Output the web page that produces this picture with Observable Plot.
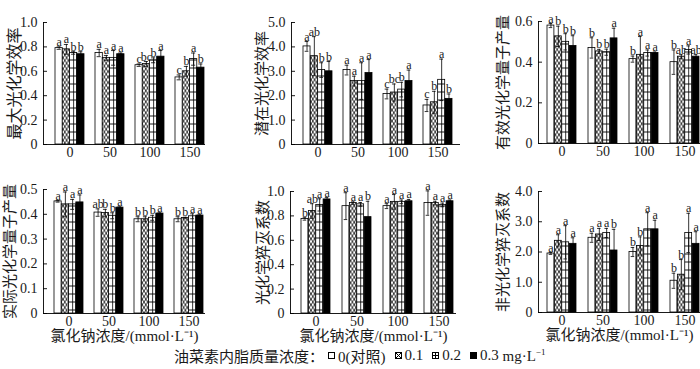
<!DOCTYPE html>
<html>
<head>
<meta charset="utf-8">
<script src="https://cdn.jsdelivr.net/npm/d3@7"></script>
<script src="https://cdn.jsdelivr.net/npm/@observablehq/plot@0.6"></script>
<style>
  html, body { margin: 0; padding: 0; background: #fff; }
  #wrap { position: relative; width: 700px; height: 369px; overflow: hidden; background: #fff; }
  .cell { position: absolute; }
  #legend { position: absolute; left: 174px; top: 345px; display: flex; align-items: center; white-space: nowrap;
            font-family: "Liberation Serif", "Noto Sans CJK SC", serif; font-size: 15px; color: #1a1a1a; }
  #legend svg { margin: 0 3px 0 4px; }
  #legend sup { font-size: 9px; }
</style>
</head>
<body>
<svg width="0" height="0" style="position:absolute">
  <defs>
    <pattern id="pat-cross" patternUnits="userSpaceOnUse" width="3.6" height="5.5">
      <rect width="3.6" height="5.5" fill="#fff"/>
      <path d="M0,0 L3.6,5.5 M3.6,0 L0,5.5" stroke="#000" stroke-width="0.8" fill="none"/>
    </pattern>
    <pattern id="pat-grid" patternUnits="userSpaceOnUse" width="10" height="8">
      <rect width="10" height="8" fill="#fff"/>
      <path d="M0,4 H10" stroke="#000" stroke-width="0.9" fill="none"/>
    </pattern>
  </defs>
</svg>
<div id="wrap"></div>
<script>
// ---------- data ----------
const groups = ["0", "50", "100", "150"];
const seriesNames = ["0(对照)", "0.1", "0.2", "0.3"];
const xLabel = "氯化钠浓度/(mmol·L⁻¹)";

// Panel 1: 最大光化学效率
const fvfmMean = [[0.79, 0.78, 0.75, 0.74], [0.75, 0.71, 0.71, 0.74], [0.65, 0.66, 0.69, 0.72], [0.55, 0.60, 0.70, 0.63]];
const fvfmErr  = [[0.01, 0.04, 0.01, 0.02], [0.03, 0.02, 0.06, 0.01], [0.01, 0.02, 0.02, 0.05], [0.02, 0.04, 0.05, 0.03]];
const fvfmSig  = [["a", "a", "b", "b"], ["a", "a", "a", "a"], ["c", "bc", "b", "a"], ["c", "b", "a", "b"]];
const fvfmTicks = [0, 0.2, 0.4, 0.6, 0.8, 1.0];

// Panel 2: 潜在光化学效率
const fvfoMean = [[4.02, 3.62, 3.05, 3.00], [3.05, 2.60, 2.60, 2.93], [2.07, 2.13, 2.25, 2.60], [1.60, 1.73, 2.65, 1.87]];
const fvfoErr  = [[0.20, 0.80, 0.30, 0.40], [0.20, 0.20, 0.75, 0.55], [0.20, 0.35, 0.30, 0.45], [0.25, 0.45, 0.85, 0.20]];
const fvfoSig  = [["a", "ab", "b", "b"], ["a", "a", "a", "a"], ["c", "bc", "b", "a"], ["c", "b", "a", "b"]];
const fvfoTicks = [0, 1, 2, 3, 4, 5];

// Panel 3: 有效光化学量子产量
const effMean = [[0.580, 0.527, 0.500, 0.480], [0.470, 0.453, 0.449, 0.517], [0.415, 0.436, 0.445, 0.445], [0.400, 0.427, 0.460, 0.427]];
const effErr  = [[0.010, 0.050, 0.040, 0.050], [0.050, 0.010, 0.015, 0.050], [0.015, 0.090, 0.015, 0.005], [0.060, 0.010, 0.020, 0.010]];
const effSig  = [["a", "b", "b", "b"], ["b", "b", "b", "a"], ["b", "a", "a", "a"], ["b", "ab", "a", "ab"]];
const effTicks = [0, 0.2, 0.4, 0.6];

// Panel 4: 实际光化学量子产量
const actMean = [[0.452, 0.440, 0.440, 0.448], [0.407, 0.405, 0.394, 0.427], [0.380, 0.380, 0.386, 0.403], [0.380, 0.385, 0.392, 0.395]];
const actErr  = [[0.003, 0.050, 0.020, 0.030], [0.015, 0.015, 0.012, 0.003], [0.010, 0.010, 0.010, 0.003], [0.010, 0.003, 0.010, 0.003]];
const actSig  = [["a", "a", "a", "a"], ["ab", "b", "b", "a"], ["b", "b", "b", "a"], ["b", "b", "a", "a"]];
const actTicks = [0, 0.1, 0.2, 0.3, 0.4, 0.5];

// Panel 5: 光化学猝灭系数
const qpMean = [[0.775, 0.840, 0.890, 0.935], [0.880, 0.905, 0.895, 0.790], [0.880, 0.915, 0.915, 0.920], [0.905, 0.905, 0.890, 0.920]];
const qpErr  = [[0.010, 0.060, 0.050, 0.015], [0.110, 0.010, 0.015, 0.130], [0.020, 0.060, 0.015, 0.015], [0.100, 0.015, 0.015, 0.010]];
const qpSig  = [["b", "ab", "a", "a"], ["a", "a", "a", "b"], ["a", "a", "a", "a"], ["a", "a", "a", "a"]];
const qpTicks = [0, 0.2, 0.4, 0.6, 0.8, 1.0];

// Panel 6: 非光化学猝灭系数
const npqMean = [[1.95, 2.37, 2.32, 2.27], [2.47, 2.58, 2.63, 2.05], [2.00, 2.20, 2.75, 2.75], [1.05, 1.25, 2.63, 2.27]];
const npqErr  = [[0.03, 0.20, 0.55, 0.20], [0.15, 0.20, 0.15, 0.70], [0.15, 0.30, 0.55, 0.30], [0.25, 0.50, 0.65, 0.40]];
const npqSig  = [["a", "a", "a", "a"], ["a", "a", "a", "b"], ["b", "b", "a", "a"], ["b", "b", "a", "a"]];
const npqTicks = [0, 1, 2, 3, 4];

// ---------- drawing ----------
const FONT = "'Liberation Serif', 'Noto Sans CJK SC', serif";
const fills = ["white", "url(#pat-cross)", "url(#pat-grid)", "black"];
const fmt = d => d === 0 ? "0" : d.toFixed(1);

function panel(cfg) {
  const {mean, err, sig, ticks, yLabel, left, top, width, height, ml, mr, mt, mb, xr, yDx, showX, yFont} = cfg;
  const rows = groups.flatMap((g, gi) => seriesNames.map((s, si) => ({g, si, v: mean[gi][si], e: err[gi][si], t: sig[gi][si]})));
  const pi = 0.284;
  const step = (xr[1] - xr[0]) / (groups.length - pi);
  const bw = step * (1 - pi);
  const w = bw / 4;
  const cap = 4;
  const frameW = width - ml - mr;
  const marks = [];
  for (let si = 0; si < 4; si++) {
    const d = rows.filter(r => r.si === si);
    const off = (si - 1.5) * w;
    marks.push(Plot.barY(d, {x: "g", y: "v", fill: fills[si], stroke: "black", strokeWidth: 0.8,
      insetLeft: si * w, insetRight: (3 - si) * w}));
    if (si === 2) marks.push(Plot.ruleX(d, {x: "g", y1: 0, y2: "v", dx: off, stroke: "black", strokeWidth: 0.8}));
    marks.push(Plot.ruleX(d, {x: "g", y1: r => r.v - r.e, y2: r => r.v + r.e, dx: off, stroke: "black", strokeWidth: 0.8}));
    for (const sign of [1, -1]) {
      marks.push(Plot.tickY(d, {x: "g", y: r => r.v + sign * r.e, stroke: "black", strokeWidth: 0.8,
        insetLeft: si * w + (w - cap) / 2, insetRight: (3 - si) * w + (w - cap) / 2}));
    }
    marks.push(Plot.text(d, {x: "g", y: r => r.v + r.e, text: "t", dx: off, dy: -1, lineAnchor: "bottom",
      fontSize: 12, fill: "#1a1a1a"}));
  }
  marks.push(Plot.ruleY([0], {stroke: "black", strokeWidth: 0.9}));
  marks.push(Plot.frame({anchor: "left", stroke: "black", strokeWidth: 0.9}));
  marks.push(Plot.tickY(ticks, {y: d => d, insetRight: frameW - 4, stroke: "black", strokeWidth: 0.9}));
  marks.push(Plot.axisY({ticks, tickSize: 0, tickPadding: 6, tickFormat: fmt, fontSize: 14, fill: "#1a1a1a", label: null}));
  marks.push(Plot.axisX({tickSize: 0, tickPadding: 3, fontSize: 14, fill: "#1a1a1a", label: null}));
  marks.push(Plot.text([yLabel], {frameAnchor: "left", rotate: -90, dx: yDx, textAnchor: "middle", lineAnchor: "middle",
    fontSize: yFont || 15, fill: "#1a1a1a"}));
  if (showX) marks.push(Plot.text([xLabel], {frameAnchor: "bottom", dy: 23, textAnchor: "middle", lineAnchor: "middle",
    fontSize: 15, fill: "#1a1a1a"}));

  const chart = Plot.plot({
    width, height, marginLeft: ml, marginRight: mr, marginTop: mt, marginBottom: mb,
    style: {fontFamily: FONT, fontSize: "14px", background: "transparent", overflow: "visible", color: "#1a1a1a"},
    x: {domain: groups, range: xr, paddingInner: pi, paddingOuter: 0, axis: null},
    y: {domain: [0, ticks[ticks.length - 1]], axis: null},
    marks
  });
  const div = document.createElement("div");
  div.className = "cell";
  div.style.left = left + "px";
  div.style.top = top + "px";
  div.appendChild(chart);
  document.getElementById("wrap").appendChild(div);
}

panel({mean: fvfmMean, err: fvfmErr, sig: fvfmSig, ticks: fvfmTicks, yLabel: "最大光化学效率",
  left: 0, top: 0, width: 230, height: 170, ml: 43, mr: 25, mt: 22, mb: 26, xr: [54, 204], yDx: -29, yFont: 16});
panel({mean: fvfoMean, err: fvfoErr, sig: fvfoSig, ticks: fvfoTicks, yLabel: "潜在光化学效率",
  left: 230, top: 0, width: 230, height: 170, ml: 61, mr: 0, mt: 22, mb: 26, xr: [71, 223], yDx: -29});
panel({mean: effMean, err: effErr, sig: effSig, ticks: effTicks, yLabel: "有效光化学量子产量",
  left: 460, top: 0, width: 240, height: 170, ml: 78, mr: 0, mt: 21, mb: 27, xr: [87, 240], yDx: -35});
panel({mean: actMean, err: actErr, sig: actSig, ticks: actTicks, yLabel: "实际光化学量子产量",
  left: 0, top: 170, width: 230, height: 180, ml: 43, mr: 25, mt: 19, mb: 37, xr: [53, 204], yDx: -33, showX: true});
panel({mean: qpMean, err: qpErr, sig: qpSig, ticks: qpTicks, yLabel: "光化学猝灭系数",
  left: 230, top: 170, width: 230, height: 180, ml: 60, mr: 4, mt: 21, mb: 37, xr: [71, 224], yDx: -27, showX: true});
panel({mean: npqMean, err: npqErr, sig: npqSig, ticks: npqTicks, yLabel: "非光化学猝灭系数",
  left: 460, top: 170, width: 240, height: 180, ml: 78, mr: 0, mt: 21, mb: 38, xr: [87, 240], yDx: -35, showX: true});

// ---------- legend ----------
const legendTitle = "油菜素内脂质量浓度：";
const legendUnit = "mg·L";
const sw = {
  0: '<rect x="0.5" y="0.5" width="6" height="6" fill="#fff" stroke="#000" stroke-width="1"/>',
  1: '<rect x="0.5" y="0.5" width="6" height="6" fill="#fff" stroke="#000" stroke-width="1"/><path d="M0.5,0.5 L6.5,6.5 M6.5,0.5 L0.5,6.5" stroke="#000" stroke-width="1"/>',
  2: '<rect x="0.5" y="0.5" width="6" height="6" fill="#fff" stroke="#000" stroke-width="1"/><path d="M3.5,0.5 V6.5 M0.5,3.5 H6.5" stroke="#000" stroke-width="1"/>',
  3: '<rect x="0.5" y="0.5" width="6" height="6" fill="#000" stroke="#000" stroke-width="1"/>'
};
const leg = document.createElement("div");
leg.id = "legend";
let html = `<span>${legendTitle}</span>`;
seriesNames.forEach((s, i) => {
  html += `<svg width="7" height="7" viewBox="0 0 7 7">${sw[i]}</svg><span>${s}</span>`;
  if (i < 3) html += `<span style="display:inline-block;width:5px"></span>`;
});
html += `<span>&nbsp;${legendUnit}<sup>−1</sup></span>`;
leg.innerHTML = html;
document.getElementById("wrap").appendChild(leg);
</script>
</body>
</html>
